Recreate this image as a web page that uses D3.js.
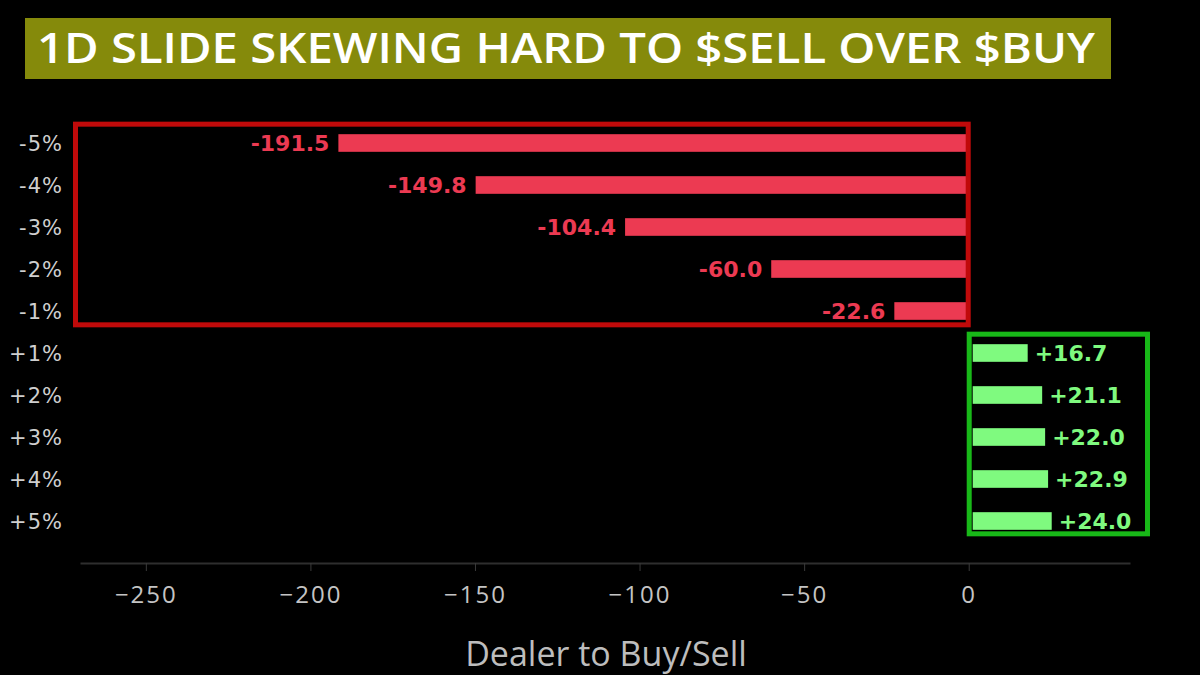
<!DOCTYPE html>
<meta charset="utf-8">
<style>
  body { margin: 0; background: #000; }
  svg { display: block; }
  text { font-family: 'Open Sans', sans-serif; }
  .ylab { fill: #cfcfcf; font-family: 'DejaVu Sans', sans-serif; font-size: 21px; letter-spacing: 1px; text-anchor: end; }
  .xaxis text { fill: #c4c4c4; font-size: 24px; letter-spacing: 2px; }
  .xaxis path { stroke: #2e2e2e; stroke-width: 2px; }
  .xaxis line { stroke: #3a3a3a; }
  .val { font-family: 'DejaVu Sans', sans-serif; font-size: 22px; font-weight: 700; }
</style>
<script src="https://d3js.org/d3.v7.min.js"></script>
<svg width="1200" height="675"></svg>
<script>
  // moves from -5% to +5%
  var levels = ["-5%", "-4%", "-3%", "-2%", "-1%", "+1%", "+2%", "+3%", "+4%", "+5%"];
  var flows = [-191.5, -149.8, -104.4, -60.0, -22.6, 16.7, 21.1, 22.0, 22.9, 24.0];
  var xTicks = [-250, -200, -150, -100, -50, 0];

  var svg = d3.select("svg");

  var x = d3.scaleLinear().domain([-270, 49]).range([80, 1130]);
  var y = d3.scaleBand().domain(levels).range([122, 542]).paddingInner(0.58).paddingOuter(0.29);

  // title
  svg.append("rect").attr("x", 25).attr("y", 18).attr("width", 1086).attr("height", 61).attr("fill", "#858a0b");
  svg.append("text").attr("x", 37).attr("y", 63)
    .attr("textLength", 1058).attr("lengthAdjust", "spacingAndGlyphs")
    .style("font-size", "41px").style("font-weight", 600).style("fill", "#fff")
    .text("1D SLIDE SKEWING HARD TO $SELL OVER $BUY");

  // x axis
  var ax = svg.append("g").attr("class", "xaxis").attr("transform", "translate(0,563)")
    .call(d3.axisBottom(x).tickValues(xTicks).tickSize(8).tickSizeOuter(0)
      .tickFormat(function(d) { return d < 0 ? "\u2212" + Math.abs(d) : d; }));
  ax.selectAll("text").attr("dy", "1.2em");

  svg.append("text").attr("x", 606).attr("y", 666).attr("text-anchor", "middle")
    .style("fill", "#bdbdbd").style("font-size", "34px").text("Dealer to Buy/Sell");

  // y labels
  svg.selectAll(".ylab").data(levels).enter().append("text")
    .attr("class", "ylab").attr("x", 63)
    .attr("y", function(d) { return y(d) + y.bandwidth() / 2; })
    .attr("dy", "0.36em").text(function(d) { return d; });

  // bars
  svg.selectAll(".bar").data(flows).enter().append("rect")
    .attr("x", function(d) { return d < 0 ? x(d) : x(0) + 4; })
    .attr("y", function(d, i) { return y(levels[i]); })
    .attr("width", function(d) { return Math.abs(x(d) - x(0)); })
    .attr("height", y.bandwidth())
    .attr("fill", function(d) { return d < 0 ? "#ec3a52" : "#7ffa7f"; });

  svg.selectAll(".val").data(flows).enter().append("text")
    .attr("class", "val")
    .attr("x", function(d) { return d < 0 ? x(d) - 9 : x(d) + 11; })
    .attr("y", function(d, i) { return y(levels[i]) + y.bandwidth() / 2; })
    .attr("dy", "0.36em")
    .attr("text-anchor", function(d) { return d < 0 ? "end" : "start"; })
    .style("fill", function(d) { return d < 0 ? "#ec3a52" : "#7ffa7f"; })
    .text(function(d) { return (d > 0 ? "+" : "") + d.toFixed(1); });

  // highlight boxes
  var neg = levels.slice(0, 5), pos = levels.slice(5);
  var rTop = y(neg[0]) - 10, rBot = y(neg[4]) + y.bandwidth() + 5;
  svg.append("rect").attr("x", 75.5).attr("y", rTop)
    .attr("width", x(0) - 0.5 - 75.5).attr("height", rBot - rTop)
    .attr("fill", "none").attr("stroke", "#c00a0a").attr("stroke-width", 5);
  var gTop = y(pos[0]) - 10, gBot = y(pos[4]) + y.bandwidth() + 4;
  svg.append("rect").attr("x", x(0) + 0.5).attr("y", gTop)
    .attr("width", 1147.5 - x(0) - 0.5).attr("height", gBot - gTop)
    .attr("fill", "none").attr("stroke", "#18b818").attr("stroke-width", 5);
</script>
